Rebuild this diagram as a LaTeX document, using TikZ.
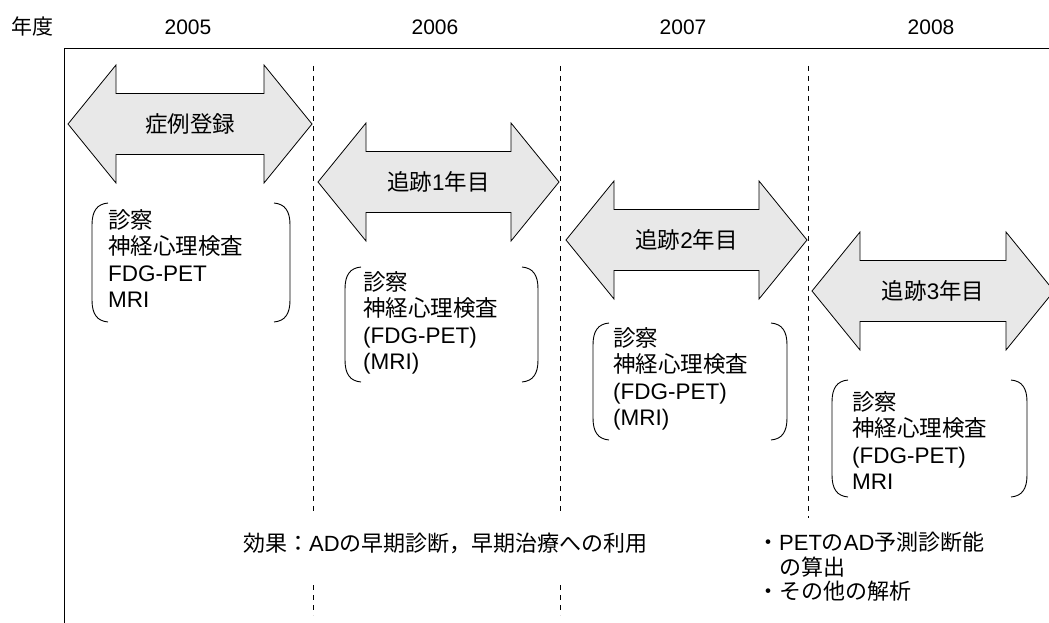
\documentclass[tikz,border=0pt]{standalone}
\usepackage{fontspec}
\setmainfont{Liberation Sans}
\newfontfamily\jp{Noto Sans CJK JP}
\tikzset{
  frameline/.style={line width=0.9pt},
  dashline/.style={line width=0.8pt, dash pattern=on 5pt off 5pt},
  arrowshape/.style={draw, line width=0.8pt, fill=black!9},
  lbl/.style={inner sep=0pt, font=\fontsize{22.5}{27}\selectfont},
  brk/.style={line width=0.9pt},
  item/.style={align=left, anchor=north west, inner sep=0pt, font=\fontsize{22.5}{26.5}\selectfont},
  yr/.style={inner sep=0pt, font=\fontsize{21}{25}\selectfont},
  note/.style={align=left, anchor=west, inner sep=0pt, font=\fontsize{22}{24.5}\selectfont},
}
% double arrow: name, x1, x2, yc, label
\newcommand{\dblarr}[5]{%
  \path[arrowshape] (#2,#4) -- (#2+48,#4-59) -- (#2+48,#4-30.5) -- (#3-48,#4-30.5)
    -- (#3-48,#4-59) -- (#3,#4) -- (#3-48,#4+59) -- (#3-48,#4+30.5)
    -- (#2+48,#4+30.5) -- (#2+48,#4+59) -- cycle;
  \node[lbl] (#1) at ({(#2+#3)/2},#4) {#5};
}
% bracket pair: x left, x right, top, bottom
\newcommand{\brkpair}[4]{%
  \draw[brk] (#1+16,#3) .. controls (#1+5,#3+1) and (#1,#3+8) .. (#1,#3+22)
    -- (#1,#4-22) .. controls (#1,#4-8) and (#1+5,#4-1) .. (#1+16,#4);
  \draw[brk] (#2-16,#3) .. controls (#2-5,#3+1) and (#2,#3+8) .. (#2,#3+22)
    -- (#2,#4-22) .. controls (#2,#4-8) and (#2-5,#4-1) .. (#2-16,#4);
}
\begin{document}
\begin{tikzpicture}[x=1pt,y=-1pt]
\useasboundingbox (0,0) rectangle (1049,623);
\clip (0,0) rectangle (1049,623);

% header
\node[yr] (nendo) at (32,27) {\jp 年度};
\node[yr] (y2005) at (188,27) {2005};
\node[yr] (y2006) at (435,27) {2006};
\node[yr] (y2007) at (683,27) {2007};
\node[yr] (y2008) at (931,27) {2008};

% frame
\draw[frameline] (64,623) -- (64,48) -- (1049,48);

% dashed year separators
\foreach \xx in {313,560}{
  \draw[dashline] (\xx,66) -- (\xx,515);
  \draw[dashline] (\xx,585) -- (\xx,615);
}
\draw[dashline] (808,66) -- (808,518);

% arrows
\dblarr{a1}{68}{312}{124}{{\jp 症例登録}}
\dblarr{a2}{318}{559}{182}{{\jp 追跡}1{\jp 年目}}
\dblarr{a3}{566}{807}{240}{{\jp 追跡}2{\jp 年目}}
\dblarr{a4}{812}{1054}{291}{{\jp 追跡}3{\jp 年目}}

% brackets
\brkpair{92}{290}{203}{322}
\brkpair{345}{538}{267}{382}
\brkpair{593}{787}{323}{440}
\brkpair{832}{1027}{380}{497}

% items
\node[item] (i1) at (108,209) {{\jp 診察}\\{\jp 神経心理検査}\\FDG-PET\\MRI};
\node[item] (i2) at (363,271) {{\jp 診察}\\{\jp 神経心理検査}\\(FDG-PET)\\(MRI)};
\node[item] (i3) at (613,327) {{\jp 診察}\\{\jp 神経心理検査}\\(FDG-PET)\\(MRI)};
\node[item] (i4) at (852,391) {{\jp 診察}\\{\jp 神経心理検査}\\(FDG-PET)\\MRI};

% bottom notes
\node[note] (eff) at (243,543) {{\jp 効果：}AD{\jp の早期診断，早期治療への利用}};
\node[note, anchor=north west] (pet) at (757,532) {{\jp ・}PET{\jp の}AD{\jp 予測診断能}\\{\jp 　の算出}\\{\jp ・その他の解析}};
\end{tikzpicture}
\end{document}
